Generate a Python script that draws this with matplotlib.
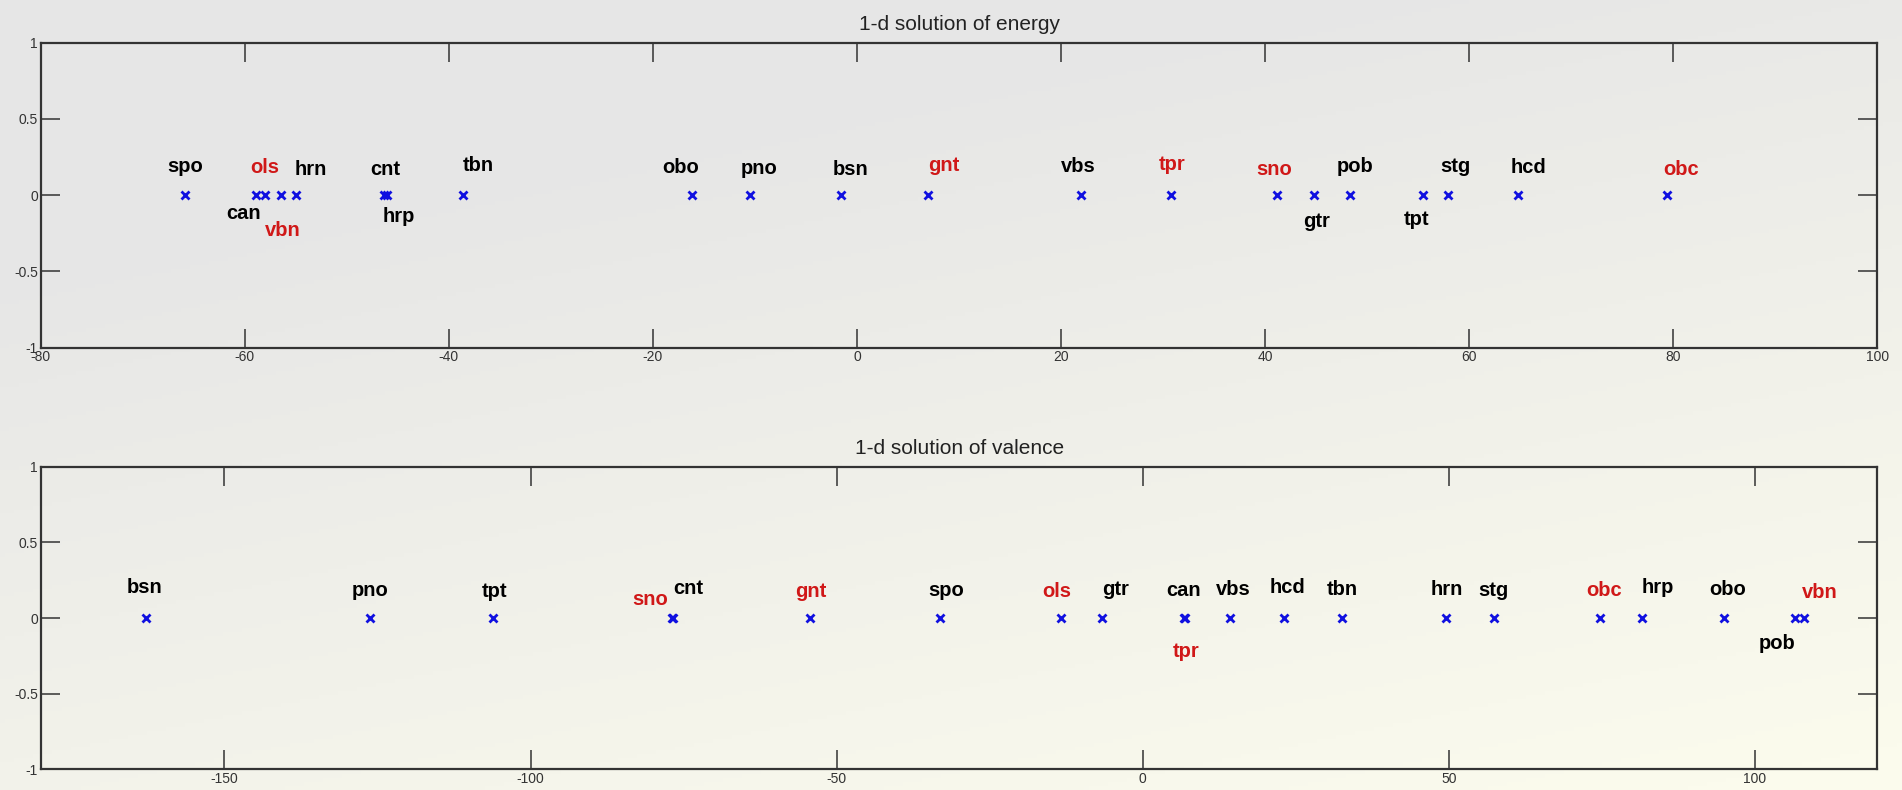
import numpy as np
import matplotlib
matplotlib.use('Agg')
from matplotlib import pyplot as plt

# instrument names (same order for both solutions)
names = ['spo', 'can', 'ols', 'vbn', 'hrn', 'cnt', 'hrp', 'tbn', 'obo', 'pno', 'bsn',
         'gnt', 'vbs', 'tpr', 'sno', 'gtr', 'pob', 'tpt', 'stg', 'hcd', 'obc']
red_names = ['ols', 'vbn', 'gnt', 'tpr', 'sno', 'obc']

# 1-d positions
energy = [-65.9, -58.9, -58.0, -56.5, -55.0, -46.4, -46.1, -38.6, -16.2, -10.5, -1.6,
          7.0, 21.9, 30.8, 41.2, 44.8, 48.3, 55.5, 57.9, 64.8, 79.4]
valence = [-33.1, 6.7, -13.4, 108.0, 49.5, -76.7, 81.5, 32.5, 94.9, -126.2, -162.8,
           -54.4, 14.3, 6.9, -76.9, -6.6, 106.5, -106.2, 57.3, 23.1, 74.7]

# label placement (layout only)
energy_lab_x = [-65.8, -60.1, -58.0, -56.3, -53.5, -46.2, -44.9, -37.1, -17.3, -9.6, -0.6,
                8.5, 21.7, 30.9, 40.9, 45.0, 48.8, 54.8, 58.6, 65.8, 80.8]
energy_lab_y = [0.186, -0.12, 0.18, -0.23, 0.17, 0.17, -0.14, 0.197, 0.18, 0.175, 0.17,
                0.197, 0.19, 0.2, 0.17, -0.175, 0.19, -0.16, 0.19, 0.18, 0.17]
valence_lab_x = [-32.1, 6.7, -14.0, 110.5, 49.6, -74.2, 84.1, 32.6, 95.5, -126.2, -163.0,
                 -54.2, 14.8, 7.1, -80.5, -4.5, 103.6, -105.9, 57.3, 23.6, 75.3]
valence_lab_y = [0.185, 0.18, 0.176, 0.17, 0.19, 0.198, 0.2, 0.19, 0.19, 0.185, 0.2,
                 0.176, 0.19, -0.22, 0.125, 0.19, -0.17, 0.176, 0.185, 0.2, 0.18]

plt.rcParams['font.family'] = ['Liberation Sans', 'DejaVu Sans']
plt.rcParams['axes.unicode_minus'] = False

fig = plt.figure(figsize=(19.02, 7.9), dpi=100)

# gradient background: light grey top-left to cream bottom-right
bg = fig.add_axes([0, 0, 1, 1], zorder=-10)
u, v = np.meshgrid(np.linspace(0, 1, 400), np.linspace(0, 1, 200))
t = np.clip(0.9 * v + 0.45 * u - 0.3, 0, 1)[..., None]
grey = np.array([230, 230, 230]) / 255.
cream = np.array([251, 251, 237]) / 255.
bg.imshow(grey * (1 - t) + cream * t, aspect='auto', extent=[0, 1, 0, 1], origin='upper')
bg.axis('off')


def draw(ax, vals, lab_x, lab_y, xlim, xticks, title):
    ax.set_facecolor('none')
    ax.plot(vals, np.zeros(len(vals)), 'x', color='#1010e0', ms=6, mew=2, zorder=3)
    for n, lx, ly in zip(names, lab_x, lab_y):
        c = '#d01818' if n in red_names else 'black'
        ax.text(lx, ly, n, color=c, fontsize=14.5, fontweight='bold',
                ha='center', va='center')
    ax.set_xlim(*xlim)
    ax.set_ylim(-1, 1)
    ax.set_xticks(xticks)
    ax.set_yticks([-1, -0.5, 0, 0.5, 1])
    ax.set_yticklabels(['-1', '-0.5', '0', '0.5', '1'])
    ax.tick_params(direction='in', length=13.5, width=1.1, color='#333333',
                   labelsize=10, labelcolor='#333333', pad=2,
                   top=True, right=True)
    for s in ax.spines.values():
        s.set_linewidth(1.6)
        s.set_color('#333333')
    ax.set_title(title, fontsize=15, pad=9, color='#222222')


ax1 = fig.add_axes([0.0214, 0.5599, 0.9657, 0.3861])
draw(ax1, energy, energy_lab_x, energy_lab_y, (-80, 100), range(-80, 101, 20),
     '1-d solution of energy')

ax2 = fig.add_axes([0.0214, 0.0262, 0.9657, 0.3830])
draw(ax2, valence, valence_lab_x, valence_lab_y, (-180, 120), [-150, -100, -50, 0, 50, 100],
     '1-d solution of valence')

fig.savefig('out.png', dpi=100)
